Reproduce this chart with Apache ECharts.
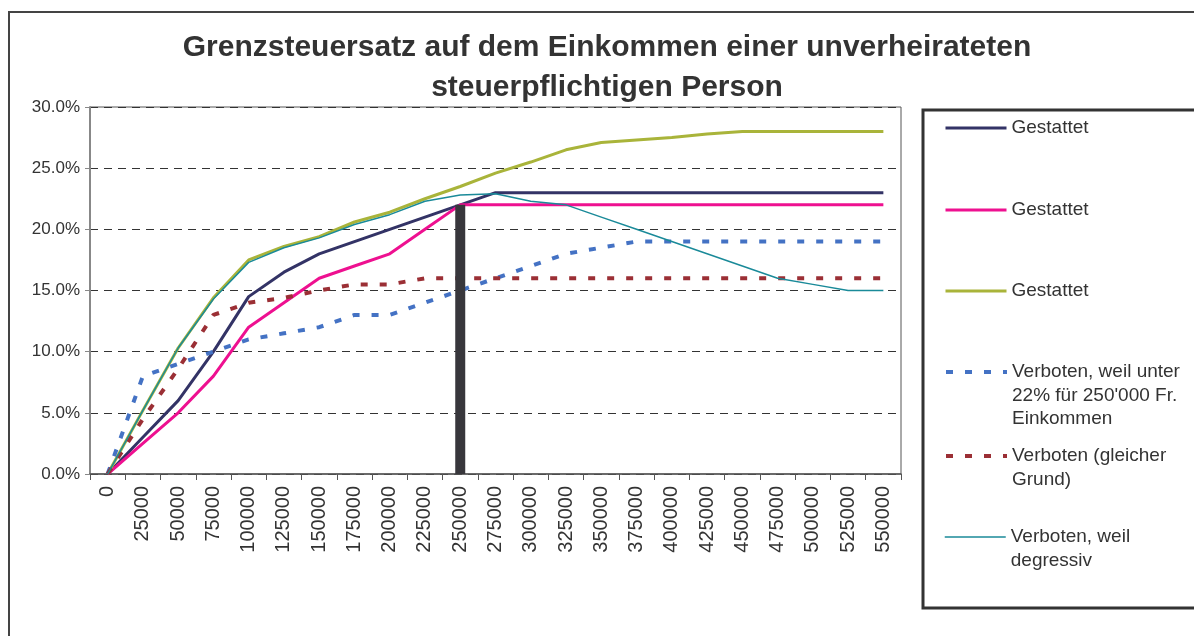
<!DOCTYPE html>
<html>
<head>
<meta charset="utf-8">
<script src="https://cdn.jsdelivr.net/npm/echarts@6/dist/echarts.min.js"></script>
<style>
    html,body{margin:0;padding:0;background:#fff;}
    #chart{width:1194px;height:636px;}
</style>
</head>
<body>
<div id="chart"></div>
<script>
    // Einkommen in Fr.
    var categories = ['0','25000','50000','75000','100000','125000','150000','175000','200000','225000','250000',
        '275000','300000','325000','350000','375000','400000','425000','450000','475000','500000','525000','550000'];

    // Grenzsteuersatz in %
    var gestattet1 = [0,3,6,10,14.5,16.5,18,19,20,21,22,23,23,23,23,23,23,23,23,23,23,23,23];
    var gestattet2 = [0,2.5,5,8,12,14,16,17,18,20,22,22,22,22,22,22,22,22,22,22,22,22,22];
    var gestattet3 = [0,5.2,10.3,14.4,17.5,18.6,19.4,20.6,21.4,22.5,23.5,24.6,25.5,26.5,27.1,27.3,27.5,27.8,28,28,28,28,28];
    var verbotenUnter22 = [0,8,9,10,11,11.5,12,13,13,14,15,16,17,18,18.5,19,19,19,19,19,19,19,19];
    var verbotenGleich = [0,4.5,8.6,13,14,14.4,15,15.5,15.5,16,16,16,16,16,16,16,16,16,16,16,16,16,16];
    var verbotenDegressiv = [0,5.2,10.3,14.3,17.3,18.5,19.3,20.4,21.2,22.3,22.8,22.9,22.3,22,21,20,19,18,17,16,15.5,15,15];
    // Grenze bei 250'000 Fr.
    var grenzeBalken = [null,null,null,null,null,null,null,null,null,null,22,null,null,null,null,null,null,null,null,null,null,null,null];

    var legend_names = {
        g1:'Gestattet',
        g2:'Gestattet',
        g3:'Gestattet',
        v1:'Verboten, weil unter\n22% für 250\'000 Fr.\nEinkommen',
        v2:'Verboten (gleicher\nGrund)',
        v3:'Verboten, weil\ndegressiv'
    };
    var font = '"Liberation Sans", Arial, sans-serif';

    // legend text is centred on the icon, so leading empty lines push the first line onto it
    function legend_item(key,top){
        var lines = legend_names[key].split('\n').length;
        var lead = new Array(lines).join('\n');
        return {
            data:[key],
            left:944,
            top:top,
            padding:0,
            itemWidth:61,
            itemHeight:14,
            itemStyle:{opacity:0},
            lineStyle:{width:'inherit',type:'inherit',color:'inherit'},
            formatter:function(name){ return lead + legend_names[name]; },
            textStyle:{
                fontFamily:font,
                fontSize:19,
                lineHeight:23.5,
                color:'#333'
            },
            selectedMode:false
        };
    }

    function line_series(key,data,color,width,dash){
        return {
            name:key,
            type:'line',
            data:data,
            symbol:'none',
            silent:true,
            lineStyle:{color:color,width:width,type:dash||'solid',cap:'butt'},
            itemStyle:{color:color},
            z:2
        };
    }

    var chart = echarts.init(document.getElementById('chart'));
    chart.setOption({
        animation:false,
        backgroundColor:'#fff',
        textStyle:{fontFamily:font},
        graphic:[
            {type:'rect',shape:{x:9,y:12,width:1200,height:640},style:{fill:'none',stroke:'#444',lineWidth:2},z:-1},
            {type:'rect',shape:{x:923,y:110,width:300,height:498},style:{fill:'none',stroke:'#333',lineWidth:3}},
            {type:'text',x:607,y:28,style:{
                text:'Grenzsteuersatz auf dem Einkommen einer unverheirateten\nsteuerpflichtigen Person',
                align:'center',verticalAlign:'top',
                font:'bold 30px ' + font,
                lineHeight:40,
                fill:'#333'
            }}
        ],
        legend:[
            legend_item('g1',116.25),
            legend_item('g2',198.25),
            legend_item('g3',279.25),
            legend_item('v1',313.25),
            legend_item('v2',420.75),
            legend_item('v3',501.75)
        ],
        grid:{
            left:90,top:107,right:293,bottom:162,
            show:true,borderColor:'#555',borderWidth:1
        },
        xAxis:{
            type:'category',
            data:categories,
            boundaryGap:true,
            axisLine:{lineStyle:{color:'#555',width:1.5}},
            axisTick:{show:true,interval:0,length:6,lineStyle:{color:'#555'}},
            axisLabel:{interval:0,rotate:90,margin:12,fontSize:20,color:'#333',fontFamily:font}
        },
        yAxis:{
            type:'value',
            min:0,max:30,interval:5,
            axisLine:{show:true,lineStyle:{color:'#888',width:2}},
            axisTick:{show:true,length:5,lineStyle:{color:'#888'}},
            axisLabel:{
                margin:10,fontSize:17,color:'#333',fontFamily:font,
                formatter:function(v){ return v.toFixed(1) + '%'; }
            },
            splitLine:{show:true,lineStyle:{color:'#333',width:1,type:[8,6]}}
        },
        series:[
            line_series('g1',gestattet1,'#333366',3),
            line_series('g2',gestattet2,'#ee1090',3),
            line_series('g3',gestattet3,'#a9b43a',3),
            line_series('v1',verbotenUnter22,'#4472c4',4,[7,12]),
            line_series('v2',verbotenGleich,'#9b2f35',4,[7,12]),
            line_series('v3',verbotenDegressiv,'#1a8a99',1.5),
            {
                name:'grenze',
                type:'bar',
                data:grenzeBalken,
                barWidth:10,
                silent:true,
                itemStyle:{color:'#38373c'},
                z:3
            }
        ]
    });
</script>
</body>
</html>
